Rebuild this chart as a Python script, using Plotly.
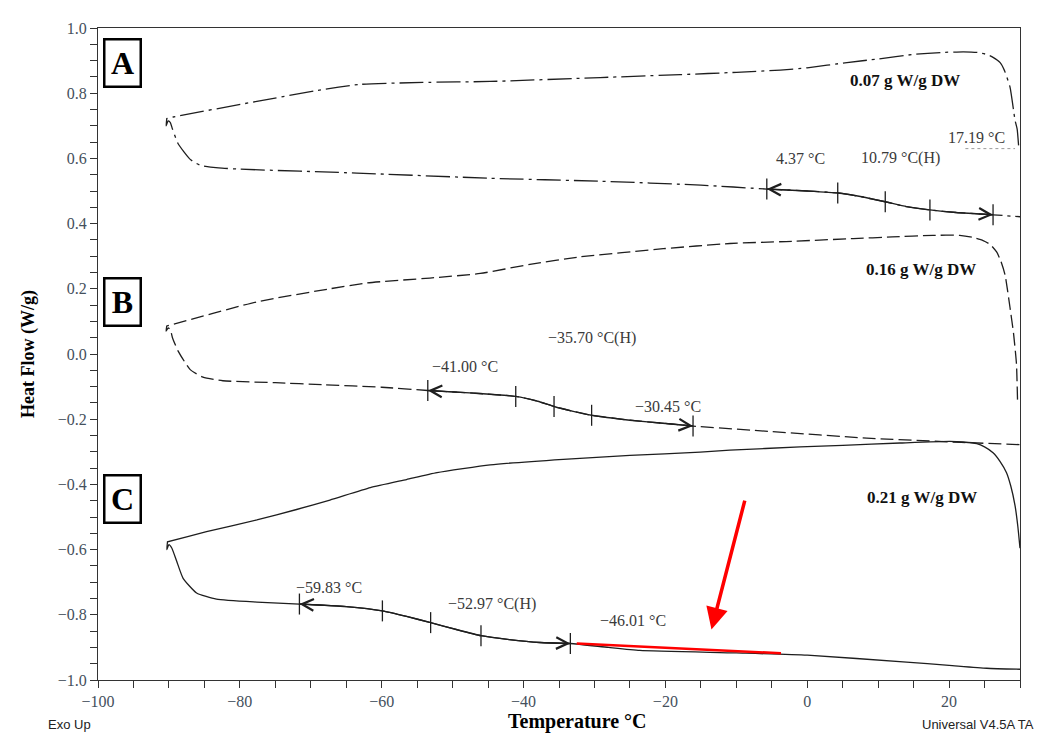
import numpy as np
import plotly.graph_objects as go

# ---------------- data ----------------
# Sample A (0.07 g W/g DW) - cooling branch (right -> left) then heating branch (left -> right)
A_cool_x = [29.8, 29.6, 29.3, 28.6, 27.8, 27.2, 26.2, 25.3, 24.0, 22.0, 19.0, 15.0, 10.0, 5.6, 0.0,
            -3.8, -10.0, -17.9, -29.2, -44.7, -54.2, -63.1, -68.3, -77.6, -89.4, -90.3]
A_cool_y = [0.640, 0.690, 0.717, 0.818, 0.870, 0.894, 0.910, 0.919, 0.925, 0.927, 0.925, 0.919, 0.905,
            0.894, 0.878, 0.871, 0.864, 0.857, 0.848, 0.836, 0.833, 0.827, 0.811, 0.775, 0.727, 0.722]
A_heat_x = [-90.3, -90.4, -90.1, -89.8, -89.5, -88.7, -87.0, -85.6, -83.0, -80.0, -63.5, -44.7, -29.2,
            -15.0, -5.7, 0.0, 4.3, 7.5, 11.0, 14.0, 17.3, 21.0, 26.2, 30.0]
A_heat_y = [0.722, 0.700, 0.715, 0.710, 0.690, 0.645, 0.597, 0.579, 0.571, 0.567, 0.555, 0.539, 0.530,
            0.518, 0.506, 0.500, 0.494, 0.483, 0.467, 0.452, 0.442, 0.434, 0.427, 0.421]

# Sample B (0.16 g W/g DW)
B_cool_x = [29.65, 29.5, 29.1, 28.6, 27.9, 27.3, 26.7, 25.8, 24.8, 23.3, 21.5, 17.7, 12.0, 6.5, -3.0,
            -10.9, -20.3, -32.0, -39.1, -46.1, -53.2, -62.1, -67.3, -77.6, -90.3]
B_cool_y = [-0.140, -0.030, 0.061, 0.141, 0.242, 0.285, 0.313, 0.336, 0.348, 0.358, 0.364, 0.364,
            0.359, 0.354, 0.345, 0.339, 0.323, 0.298, 0.275, 0.247, 0.233, 0.218, 0.200, 0.160, 0.086]
B_heat_x = [-90.3, -90.4, -90.1, -89.8, -89.5, -88.7, -87.0, -85.2, -82.4, -75.0, -68.3, -60.0, -53.5,
            -47.0, -41.1, -38.0, -35.7, -33.0, -30.4, -25.0, -20.0, -16.1, -5.0, 8.4, 21.7, 30.0]
B_heat_y = [0.086, 0.070, 0.080, 0.075, 0.050, 0.009, -0.048, -0.071, -0.082, -0.088, -0.094, -0.102,
            -0.112, -0.120, -0.130, -0.145, -0.161, -0.176, -0.188, -0.203, -0.213, -0.221, -0.238,
            -0.258, -0.271, -0.278]

# Sample C (0.21 g W/g DW)
C_cool_x = [30.0, 29.7, 29.3, 28.7, 28.1, 27.2, 26.2, 25.0, 23.9, 22.0, 20.1, 13.1, 5.0, -1.0, -10.9,
            -15.1, -25.0, -34.4, -44.7, -52.2, -56.5, -61.6, -67.3, -72.0, -77.6, -84.7, -90.2]
C_cool_y = [-0.596, -0.530, -0.465, -0.405, -0.364, -0.330, -0.303, -0.285, -0.275, -0.270, -0.268,
            -0.273, -0.280, -0.285, -0.295, -0.301, -0.311, -0.323, -0.340, -0.364, -0.385, -0.410,
            -0.448, -0.477, -0.509, -0.545, -0.576]
C_heat_x = [-90.2, -90.3, -90.0, -89.6, -88.9, -88.0, -86.1, -83.3, -77.6, -71.6, -65.0, -59.9, -56.5,
            -53.1, -49.5, -46.0, -42.0, -37.7, -33.4, -28.0, -23.6, -10.0, 0.0, 14.0, 20.0, 25.3, 30.0]
C_heat_y = [-0.576, -0.600, -0.585, -0.595, -0.636, -0.688, -0.733, -0.752, -0.761, -0.767, -0.775,
            -0.788, -0.805, -0.824, -0.845, -0.864, -0.876, -0.885, -0.888, -0.900, -0.909, -0.917,
            -0.924, -0.945, -0.955, -0.964, -0.967]

# Glass-transition analysis marks (start, onset, mid (H), end, stop)
A_tg_x = [-5.7, 4.3, 11.0, 17.3, 26.2]
B_tg_x = [-53.5, -41.1, -35.7, -30.4, -16.1]
C_tg_x = [-71.6, -59.9, -53.1, -46.0, -33.4]

# Temperature labels
tg_labels = ["4.37 °C", "10.79 °C(H)", "17.19 °C", "−41.00 °C", "−35.70 °C(H)", "−30.45 °C",
             "−59.83 °C", "−52.97 °C(H)", "−46.01 °C"]
tg_label_x = [-1.0, 13.1, 23.8, -48.2, -30.3, -19.7, -67.5, -44.4, -24.5]
tg_label_y = [0.601, 0.601, 0.665, -0.039, 0.048, -0.161, -0.717, -0.767, -0.818]

sample_labels = ["0.07 g W/g DW", "0.16 g W/g DW", "0.21 g W/g DW"]
sample_label_x = [13.8, 16.0, 16.25]
sample_label_y = [0.839, 0.258, -0.439]

panel_letters = ["A", "B", "C"]

# dotted guide under 17.19 °C
dot_x = [22.3, 29.3]
dot_y = [0.630, 0.630]

# red highlight line and red arrow (tail -> tip)
red_x = [-32.5, -3.7]
red_y = [-0.888, -0.918]
red_arrow_tail = (-8.75, -0.445)
red_arrow_tip = (-13.5, -0.845)

x_ticks = [-100, -80, -60, -40, -20, 0, 20]
y_ticks = [1.0, 0.8, 0.6, 0.4, 0.2, 0.0, -0.2, -0.4, -0.6, -0.8, -1.0]

# ---------------- figure ----------------
INK = "#1e1e1e"
SERIF = "Liberation Serif"
fig = go.Figure()

samples = [
    (A_cool_x, A_cool_y, A_heat_x, A_heat_y, A_tg_x, "24px,5px,3px,5px"),
    (B_cool_x, B_cool_y, B_heat_x, B_heat_y, B_tg_x, "13px,5px"),
    (C_cool_x, C_cool_y, C_heat_x, C_heat_y, C_tg_x, "solid"),
]

annotations = []
for cx, cy, hx, hy, tgx, dash in samples:
    xs = list(cx) + list(hx)
    ys = list(cy) + list(hy)
    fig.add_trace(go.Scatter(x=xs, y=ys, mode="lines", line_shape="spline",
                             line=dict(color=INK, width=1.3, dash=dash, smoothing=0.5),
                             hoverinfo="skip"))
    hx_a = np.array(hx)
    hy_a = np.array(hy)
    mono = hx_a[5:]
    mono_y = hy_a[5:]
    tgy = np.interp(tgx, mono, mono_y)
    mask = (mono >= tgx[0]) & (mono <= tgx[-1])
    fig.add_trace(go.Scatter(x=mono[mask], y=mono_y[mask], mode="lines", line_shape="spline",
                             line=dict(color=INK, width=1.4, smoothing=0.5), hoverinfo="skip"))
    fig.add_trace(go.Scatter(x=tgx, y=tgy, mode="markers",
                             marker=dict(symbol="line-ns", size=15,
                                         line=dict(color=INK, width=1.3)),
                             hoverinfo="skip"))
    for tip, toward in ((0, 1), (-1, -2)):
        x_tip = tgx[tip]
        x_tail = x_tip + 0.35 * (tgx[toward] - tgx[tip])
        annotations.append(dict(
            x=x_tip, y=float(np.interp(x_tip, mono, mono_y)),
            ax=x_tail, ay=float(np.interp(x_tail, mono, mono_y)),
            xref="x", yref="y", axref="x", ayref="y", text="",
            showarrow=True, arrowhead=5, arrowsize=2.3, arrowwidth=1.0, arrowcolor=INK))

fig.add_trace(go.Scatter(x=dot_x, y=dot_y, mode="lines",
                         line=dict(color="#9a9a9a", width=1, dash="dot"), hoverinfo="skip"))
fig.add_trace(go.Scatter(x=red_x, y=red_y, mode="lines",
                         line=dict(color="#ff0000", width=2.5), hoverinfo="skip"))
annotations.append(dict(
    x=red_arrow_tip[0], y=red_arrow_tip[1], ax=red_arrow_tail[0], ay=red_arrow_tail[1],
    xref="x", yref="y", axref="x", ayref="y", text="", showarrow=True,
    arrowhead=2, arrowsize=1.25, arrowwidth=3.5, arrowcolor="#ff0000"))

for t, x, y in zip(tg_labels, tg_label_x, tg_label_y):
    annotations.append(dict(x=x, y=y, xref="x", yref="y", text=t, showarrow=False,
                            xanchor="center", yanchor="middle",
                            font=dict(family=SERIF, size=16, color="#3a3a3a")))
for t, x, y in zip(sample_labels, sample_label_x, sample_label_y):
    annotations.append(dict(x=x, y=y, xref="x", yref="y", text="<b>" + t + "</b>",
                            xanchor="center", yanchor="middle",
                            showarrow=False, font=dict(family=SERIF, size=17, color="#111")))

panel_y = [0.947, 0.579, 0.277]
for letter, py in zip(panel_letters, panel_y):
    annotations.append(dict(x=0.0271, y=py, xref="paper", yref="paper",
                            xanchor="center", yanchor="middle",
                            text="<b>" + letter + "</b>", showarrow=False,
                            width=34, height=45, bordercolor="#000", borderwidth=2.5,
                            borderpad=0, bgcolor="white",
                            font=dict(family=SERIF, size=32, color="#000")))

annotations += [
    dict(x=-0.0759, y=0.5, xref="paper", yref="paper", text="<b>Heat Flow (W/g)</b>",
         xanchor="center", yanchor="middle",
         textangle=-90, showarrow=False, font=dict(family=SERIF, size=18, color="#000")),
    dict(x=0.5206, y=-0.064, xref="paper", yref="paper", text="<b>Temperature °C</b>",
         xanchor="center", yanchor="middle",
         showarrow=False, font=dict(family=SERIF, size=20, color="#000")),
    dict(x=-0.0304, y=-0.068, xref="paper", yref="paper", text="Exo Up",
         xanchor="center", yanchor="middle",
         showarrow=False, font=dict(family="Liberation Sans", size=13, color="#222")),
    dict(x=0.954, y=-0.068, xref="paper", yref="paper", text="Universal V4.5A TA",
         xanchor="center", yanchor="middle",
         showarrow=False, font=dict(family="Liberation Sans", size=13, color="#222")),
]

def fmt(v):
    s = f"{abs(v):.1f}"
    return ("−" + s) if v < 0 else s

# the page body has an 8px margin, so the figure is shrunk and its margins shifted by 8px
fig.update_layout(
    width=1048, height=730,
    margin=dict(l=90, r=36, t=12, b=58),
    paper_bgcolor="white", plot_bgcolor="white",
    showlegend=False,
    annotations=annotations,
    xaxis=dict(range=[-100, 30], tickvals=x_ticks,
               ticktext=[("−" + str(abs(v))) if v < 0 else str(v) for v in x_ticks],
               ticks="outside", ticklen=7, tickwidth=1, tickcolor="#333",
               minor=dict(dtick=5, ticks="outside", ticklen=7, tickwidth=1, tickcolor="#333"),
               showline=True, linecolor="#333", linewidth=1.2, mirror=True,
               showgrid=False, zeroline=False,
               tickfont=dict(family=SERIF, size=16, color="#44505c")),
    yaxis=dict(range=[-1.0, 1.0], tickvals=y_ticks, ticktext=[fmt(v) for v in y_ticks],
               ticks="outside", ticklen=7, tickwidth=1, tickcolor="#333",
               minor=dict(dtick=0.05, ticks="outside", ticklen=7, tickwidth=1, tickcolor="#333"),
               showline=True, linecolor="#333", linewidth=1.2, mirror=True,
               showgrid=False, zeroline=False,
               tickfont=dict(family=SERIF, size=16, color="#44505c")),
)

fig.write_html("out.html")
